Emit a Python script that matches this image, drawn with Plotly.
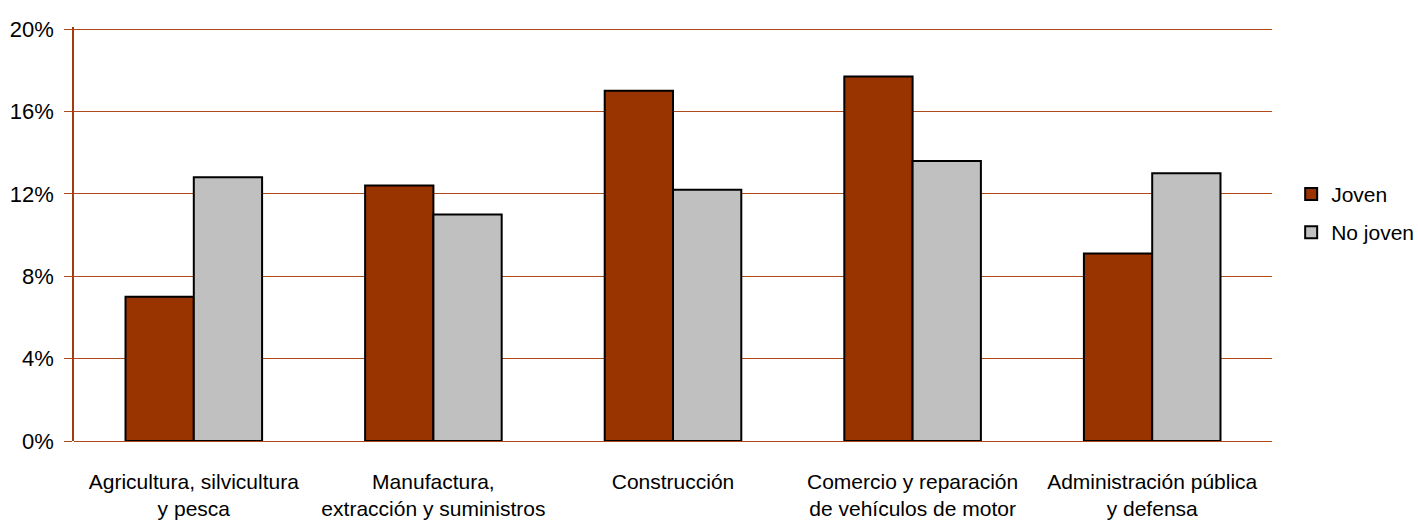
import plotly.graph_objects as go

categories = [
    "Agricultura, silvicultura<br>y pesca",
    "Manufactura,<br>extracción y suministros",
    "Construcción",
    "Comercio y reparación<br>de vehículos de motor",
    "Administración pública<br>y defensa",
]
joven = [7.0, 12.4, 17.0, 17.7, 9.1]
no_joven = [12.8, 11.0, 12.2, 13.6, 13.0]
y_ticks = [0, 4, 8, 12, 16, 20]
y_ticktext = ["0%", "4%", "8%", "12%", "16%", "20%"]

FONT = "Liberation Sans, Arial, sans-serif"
GRID = "#B04A18"

fig = go.Figure()
fig.add_trace(go.Bar(name="Joven", x=categories, y=joven, legendgroup="a",
                     marker=dict(color="#993300", line=dict(color="black", width=2))))
fig.add_trace(go.Bar(name="No joven", x=categories, y=no_joven, legendgroup="b",
                     marker=dict(color="#C0C0C0", line=dict(color="black", width=2))))

fig.update_layout(
    width=1418, height=526,
    margin=dict(l=74, r=146, t=27, b=85, autoexpand=False),
    paper_bgcolor="white", plot_bgcolor="white",
    font=dict(family=FONT, size=21, color="black"),
    barmode="group", bargap=0.43, bargroupgap=0,
    legend=dict(x=1.016, y=0.55, xanchor="left", yanchor="middle",
                font=dict(size=21), tracegroupgap=8, itemwidth=30),
    showlegend=True,
)
fig.update_xaxes(showline=False, showgrid=False, ticks="", tickangle=0,
                 tickfont=dict(size=21), ticklabelstandoff=26)
fig.update_yaxes(range=[0, 20.1], tickvals=y_ticks, ticktext=y_ticktext,
                 showgrid=True, gridcolor=GRID, gridwidth=1,
                 zeroline=True, zerolinecolor=GRID, zerolinewidth=1,
                 showline=True, linecolor="#A33C0A", linewidth=1.5,
                 ticks="outside", ticklen=8, tickcolor=GRID,
                 tickfont=dict(size=22), ticklabelstandoff=6)

fig.write_html("out.html", config={"displayModeBar": False},
               post_script="document.body.style.margin='0';")
